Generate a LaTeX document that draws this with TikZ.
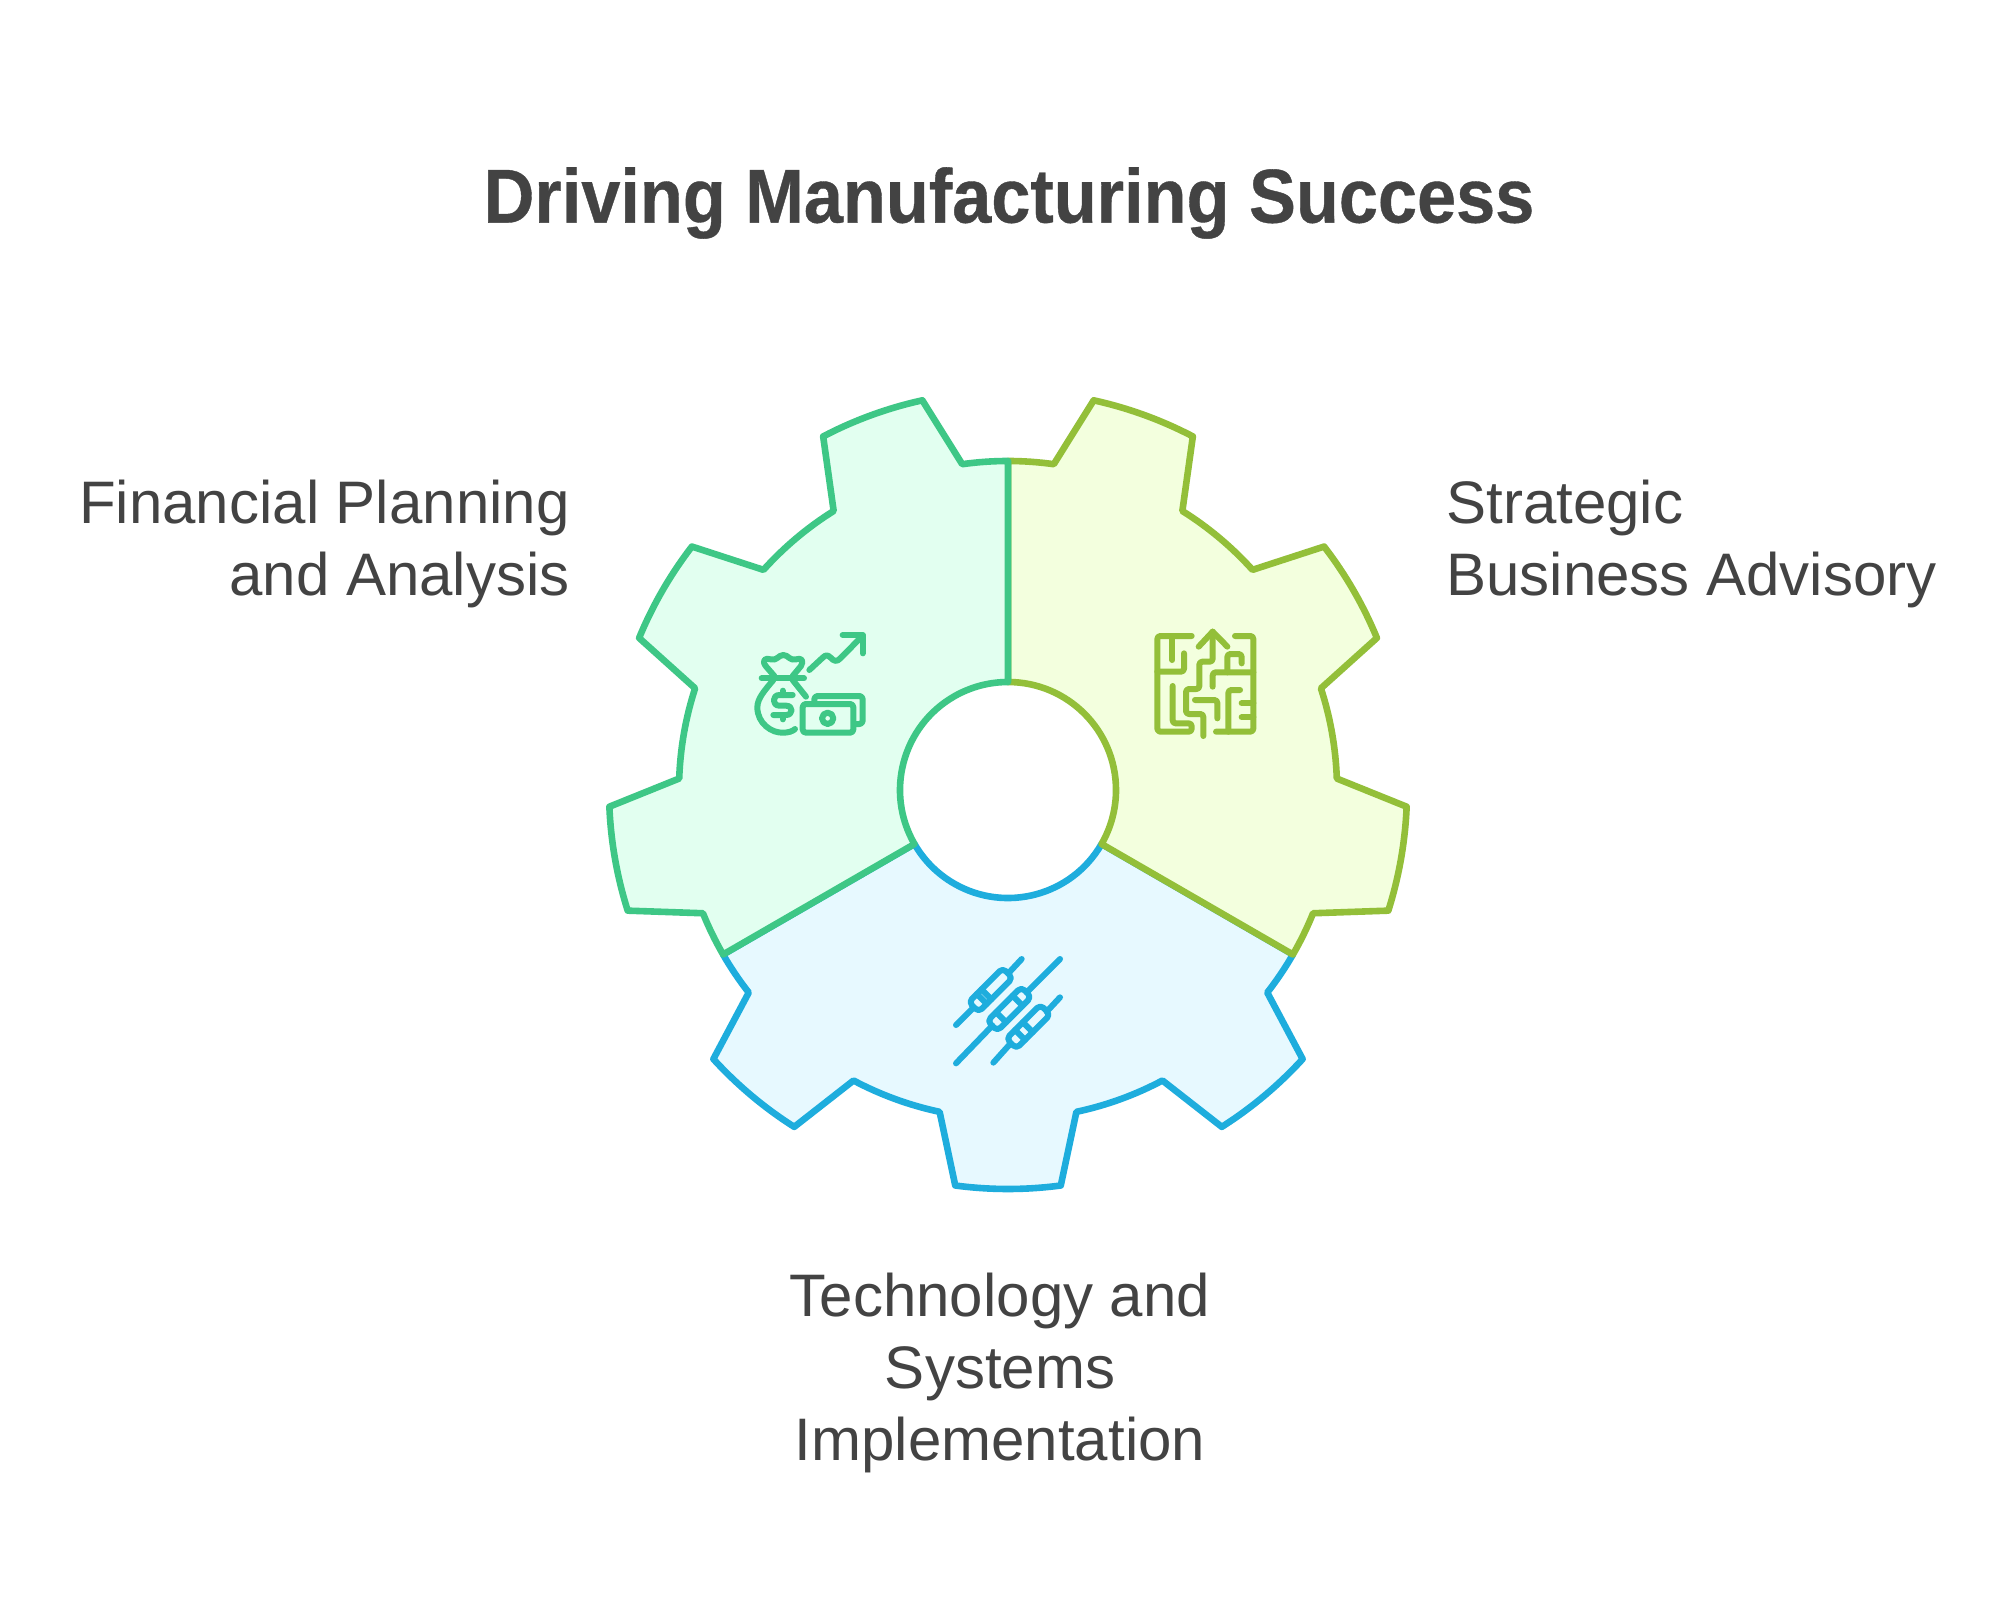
\documentclass[tikz,border=0pt]{standalone}
\usepackage{fontspec}
\setmainfont{Liberation Sans}
\newfontfamily\titlefont[FakeStretch=0.92,FakeBold=0.5]{Liberation Sans}
\definecolor{gstroke}{HTML}{3EC786}
\definecolor{gfill}{HTML}{E2FFF0}
\definecolor{ostroke}{HTML}{93BF39}
\definecolor{ofill}{HTML}{F3FFDE}
\definecolor{bstroke}{HTML}{1EADDD}
\definecolor{bfill}{HTML}{E7F9FF}
\definecolor{txt}{HTML}{434343}
\tikzset{
  gearpart/.style={line width=3.3pt,line join=round},
  iconline/.style={line width=3pt,line cap=round,line join=round},
  iconunits/.style={x=0.16667pt,y=-0.16667pt},
  labeltext/.style={text=txt,inner sep=0pt,font=\fontsize{30}{36}\selectfont},
  titletext/.style={text=txt,inner sep=0pt,font=\titlefont\fontsize{38.2}{46}\selectfont\bfseries}
}
\newcommand{\toothrun}[1]{
  arc[start angle={#1},end angle={#1+8},radius=329]
  -- ({#1+12.4}:399)
  arc[start angle={#1+12.4},end angle={#1+27.6},radius=399]
  -- ({#1+32}:329)
  arc[start angle={#1+32},end angle={#1+40},radius=329]
}
\newcommand{\gearseg}[3]{
  \draw[gearpart,draw=#2,fill=#3] (#1:329)
    \toothrun{#1} \toothrun{#1+40} \toothrun{#1+80}
    -- ({#1+120}:108)
    arc[start angle={#1+120},end angle={#1},radius=108] -- cycle;
}
\newcommand{\resbody}[4]{
  \begin{scope}[rotate around={45:(#1,#2)}]
    \draw[rounded corners=2.2pt] ({#1-72},{#2-21}) rectangle ({#1+72},{#2+21});
    \draw ({#1+#3},{#2-21}) -- ({#1+#3},{#2+21});
    \draw ({#1+#4},{#2-21}) -- ({#1+#4},{#2+21});
  \end{scope}
}
\begin{document}
\begin{tikzpicture}[x=0.5pt,y=-0.5pt]
\useasboundingbox[fill=white] (0,0) rectangle (2016,1620);

% gear
\begin{scope}[shift={(1008,790)},x=0.5pt,y=0.5pt]
  \gearseg{210}{bstroke}{bfill}
  \gearseg{330}{ostroke}{ofill}
  \gearseg{90}{gstroke}{gfill}
\end{scope}

% money icon
\begin{scope}[shift={(720,600)},iconunits,iconline,draw=gstroke]
  \draw (268,210) -- (308,173) .. controls (318,164) and (322,164) .. (332,173)
        .. controls (342,184) and (350,186) .. (360,176) -- (425,110);
  \draw (368,105) -- (428,105) -- (428,160);
  \draw (163,228) -- (137,198) .. controls (125,182) and (135,172) .. (152,178)
        .. controls (170,184) and (175,165) .. (190,165)
        .. controls (205,165) and (210,184) .. (228,178)
        .. controls (245,172) and (252,182) .. (243,198) -- (218,228);
  \draw (125,235) -- (252,235);
  \draw (160,240) .. controls (135,270) and (112,295) .. (112,322)
        .. controls (112,370) and (155,400) .. (190,398)
        .. controls (205,398) and (218,394) .. (225,387);
  \draw (218,240) -- (258,290);
  \draw (218,285) -- (178,285) .. controls (156,285) and (156,317) .. (178,317)
        -- (198,317) .. controls (220,317) and (220,345) .. (198,345) -- (160,345);
  \draw (188,272) -- (188,285);
  \draw (188,345) -- (188,358);
  \draw[rounded corners=1.6pt] (248,312) rectangle (400,398);
  \draw[rounded corners=1.6pt] (283,310) -- (283,288) -- (428,288) -- (428,372) -- (405,372);
  \draw (323,355) circle[radius=17];
\end{scope}

% maze icon
\begin{scope}[shift={(1140,610)},iconunits,iconline,draw=ostroke]
  \draw[rounded corners=1.5pt] (155,78) -- (52,78) -- (52,365) -- (155,365) -- (155,340) -- (98,340) -- (98,228);
  \draw (97,80) -- (97,150);
  \draw[rounded corners=1.5pt] (52,185) -- (132,185) -- (132,130);
  \draw (176,110) -- (218,65) -- (262,110);
  \draw[rounded corners=1.5pt] (218,65) -- (218,155) -- (178,155) -- (178,237) -- (138,237) -- (138,312) -- (190,312) -- (190,378);
  \draw[rounded corners=1.5pt] (285,78) -- (340,78) -- (340,365) -- (228,365);
  \draw[rounded corners=1.5pt] (305,160) -- (305,132) -- (262,132) -- (262,187);
  \draw[rounded corners=1.5pt] (340,187) -- (218,187) -- (218,230);
  \draw[rounded corners=1.5pt] (300,240) -- (265,240) -- (265,365);
  \draw[rounded corners=1.5pt] (165,270) -- (232,270) -- (232,325);
  \draw (305,280) -- (340,280);
  \draw (305,322) -- (340,322);
\end{scope}

% resistor icon
\begin{scope}[shift={(940,940)},iconunits,iconline,draw=bstroke]
  \draw (48,255) -- (100,203);
  \draw (205,100) -- (245,57);
  \draw (48,370) -- (157,257);
  \draw (260,157) -- (360,57);
  \draw (160,368) -- (212,310);
  \draw (320,215) -- (360,172);
  \resbody{152}{150}{-38}{-18}
  \resbody{208}{207}{-35}{35}
  \resbody{265}{260}{-35}{-2}
\end{scope}

% texts
\node[titletext] (title) at (1009,203) {Driving Manufacturing Success};
\node[labeltext,anchor=east,align=right] (fin) at (570,544) {Financial Planning\\and Analysis};
\node[labeltext,anchor=west,align=left] (strat) at (1446,544) {Strategic\\Business Advisory};
\node[labeltext,anchor=center,align=center] (tech) at (1000,1373) {Technology and\\Systems\\Implementation};
\end{tikzpicture}
\end{document}
